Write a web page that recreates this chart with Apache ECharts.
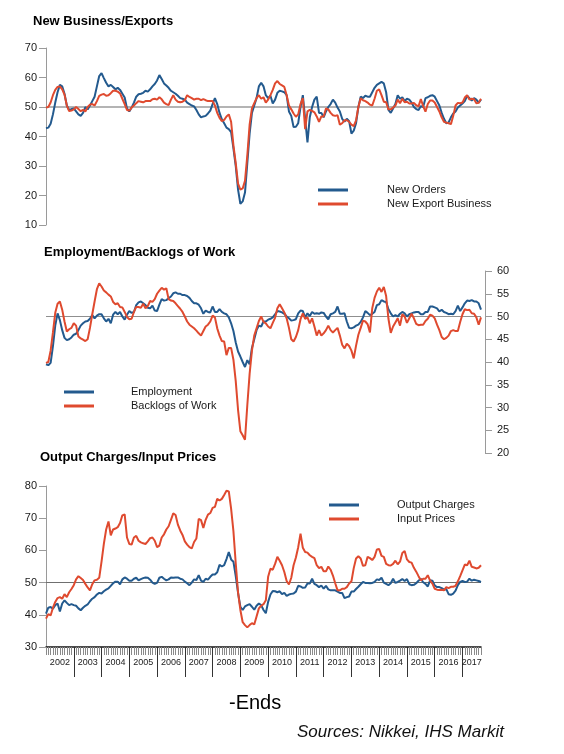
<!DOCTYPE html>
<html>
<head>
<meta charset="utf-8">
<script src="https://cdn.jsdelivr.net/npm/echarts/dist/echarts.min.js"></script>
<style>
html,body{margin:0;padding:0;background:#ffffff;}
#chart{width:564px;height:754px;}
</style>
</head>
<body>
<div id="chart"></div>
<script>
// ---------- data (monthly, Jan 2002 - Sep 2017) ----------
const years = ['2002','2003','2004','2005','2006','2007','2008','2009','2010','2011','2012','2013','2014','2015','2016','2017'];
const lastMonthOfLastYear = 9;

const newOrders = [
  42.8, 43, 44.3, 47.5, 51.5, 55, 57.5, 57, 54.5, 50.5, 49, 49.3,
  49.5, 48.5, 47.5, 47, 48, 50, 49.2, 50.5, 52, 53.5, 57, 60.5,
  61.5, 59.8, 58.2, 57, 57.5, 56.8, 56, 56.5, 55.8, 54.5, 53.2, 49.5,
  48.5, 49.8, 51.5, 53.5, 54.3, 54.5, 54.8, 55.5, 55.2, 56, 57, 57.8,
  59, 60.8, 59.5, 58, 57.3, 56.5, 55.5, 55, 54.5, 53.8, 53, 52.8,
  52.5, 51.5, 51, 50.5, 50.2, 49, 47.5, 46.5, 46.8, 47, 47.8, 48.8,
  51, 53, 51, 48, 45.8, 44.5, 43, 42.5, 41.5, 36, 30, 22,
  17.2, 18, 21, 31, 41, 48, 50.5, 53, 57, 58.2, 57, 54,
  53, 53.8, 51.2, 52.5, 54.8, 55.5, 55.3, 55, 54, 48.5, 47, 43.2, 43.3,
  44.5, 50, 54, 46, 38, 46.5, 50, 52.5, 53.5, 48, 48, 46.5,
  48.5, 50, 51, 52.5, 51.5, 49.8, 48.5, 46, 45, 46, 45.2, 41,
  42, 44.5, 50, 53.5, 53, 53.8, 53.5, 53.5, 55, 56.5, 57.5, 58,
  58.5, 58, 55, 49, 48, 49.5, 51, 54, 52.8, 53.3, 52, 52.8,
  52.5, 51.5, 50, 49.3, 49, 50.3, 50, 53, 53.3, 53.8, 54, 53.5,
  52, 50.5, 48, 46, 44.5, 44.8, 46.5, 47.8, 48.5, 49.8, 50.5, 51.2,
  52, 53.8, 53, 52.2, 53, 52.5, 51.5, 52.5
];
const newExportBusiness = [
  49.8, 50, 51.5, 54, 55.8, 56.8, 57, 56, 54.2, 50.5, 48.6, 48.8,
  49.2, 50, 49.3, 48.6, 49, 48.5, 50, 50.8, 51, 50.5, 52, 53.8,
  54.2, 54.4, 53.8, 54, 54.7, 55.5, 55.5, 55.2, 54.6, 52.8, 51, 49,
  48.8, 49.8, 50.5, 51.3, 52, 51.8, 51.6, 52, 52, 52, 52.6, 52.8,
  52.5, 53.3, 52.6, 51.5, 51, 50.6, 52.5, 54, 52.5, 51.8, 51.6, 51.8,
  52.3, 54, 53.4, 53, 52.5, 52.8, 52.8, 52.3, 52.7, 52.3, 52, 52,
  52, 50.5, 48, 46.3, 45.2, 45.6, 46.8, 47.5, 45, 37, 31, 24,
  22, 22.4, 25, 33.5, 44, 49.5, 51.3, 53, 54, 52.8, 53.3, 51.5,
  52.5, 54, 55.8, 58, 58.8, 57.8, 57.3, 56.8, 54, 50.5, 49.2, 47.8, 46.7,
  47.5, 51, 53, 42.5, 48.5, 49, 48.7, 48.2, 46.8, 45, 46.8, 46.8,
  49.5, 49.2, 48, 47.2, 47, 47.2, 44, 44.5, 45.5, 45.5, 45, 44,
  43.5, 45.5, 50, 53, 52.3, 52, 51.5, 50.8, 50.5, 52.8, 55.5, 56,
  54, 51.8, 51.6, 49.2, 49.2, 49.8, 50.5, 52.5, 51.3, 52.8, 51.6, 51.8,
  51.2, 51.2, 51.4, 50.6, 50.2, 52.7, 50.3, 48.4, 51, 52.2, 52.2, 51.5,
  50, 48.5, 46.5, 45, 44.7, 44.5, 44.2, 47, 50.5, 51.4, 51.3, 51.5,
  53.2, 54, 52.5, 52.8, 52.6, 51.3, 51.4, 52.8
];
const employment = [
  39.5, 39.3, 39.8, 43.5, 48, 50.7, 49.2, 47, 45.3, 44.8, 45, 45.4,
  46, 46.2, 47, 48, 48.5, 48.9, 49, 49.5, 50.3, 49.6, 50.2, 50.5,
  50.5, 49.6, 48.9, 49.5, 48.5, 50.4, 51, 50.5, 51, 50, 49.3, 50.4,
  51.2, 50.8, 51, 52.5, 53.1, 53.3, 52.9, 52.5, 51.9, 51.8, 52.4, 51.3,
  51.2, 52.6, 53.8, 53.5, 53.6, 54, 54.4, 55.1, 55.3, 55, 55, 54.7,
  54.7, 54.5, 54.1, 53.4, 52.9, 52.9, 52.6, 51.8, 50.6, 51.3, 51, 50.9,
  52.2, 51, 51, 51.6, 51, 50.7, 50.5, 49.8, 48.5, 46.8, 44.3, 42.3,
  41.2, 40, 38.9, 40.4, 39.5, 43.1, 45, 47, 48, 47.8, 48.9, 48.9,
  49.3, 49.5, 49.8, 50.5, 51.2, 51.1, 50.9, 50.6, 50, 49.6, 49.1, 49.2, 49.4,
  50.7, 51.3, 51.2, 49.8, 50.7, 50.1, 51, 50.6, 50.7, 50.6, 50.9, 50.8,
  50, 49.4, 50.5, 50.7, 51, 52.2, 50.6, 50.6, 50.7, 48.9, 47.5, 47.4,
  47.6, 48, 48.2, 48.8, 49.8, 51.2, 50.8, 50.3, 50.6, 51, 52.5, 52.7,
  53.6, 53.3, 53.2, 51.6, 50.7, 50, 50.3, 50, 50.6, 51, 50.7, 50,
  50.5, 50.7, 50.9, 51, 51, 50.5, 50.5, 51, 51, 52.2, 52.2, 52,
  51.8, 51.1, 51.5, 51, 50.8, 50.5, 50.6, 50.5, 51.2, 52.4, 51.2, 52,
  52.9, 53.5, 53.4, 53.6, 53.3, 53.3, 52.9, 51.5
];
const backlogsOfWork = [
  39.8, 40, 42.5, 46.5, 50.8, 52.8, 53.3, 51.5, 48.9, 46.7, 47.2, 47.5,
  48.5, 48, 45.6, 45.2, 44.9, 44.6, 45, 47.5, 50.5, 53.3, 56, 57.3,
  56.6, 55.7, 55.3, 54.8, 54.4, 53.2, 52.7, 52.9, 52.1, 52, 51, 49.9,
  49.4, 49.5, 51, 52.1, 52.1, 51.9, 52.8, 51.8, 52.3, 53.4, 53.2, 53.8,
  55, 55.7, 56.3, 55.9, 56.2, 53.8, 53.5, 53.4, 52.9, 52.3, 51.7, 51,
  50, 48.9, 48.2, 47.8, 47.4, 46.9, 46.3, 45.8, 46.8, 47.8, 48.2, 48.9,
  50.2, 49.8, 47.4, 45.8, 44.6, 44.5, 41.5, 43.1, 43.1, 40.5, 35.8, 29.5,
  24.8, 23.9, 22.9, 30.5, 37.4, 42.5, 45.8, 47.4, 49, 50, 48.8, 48.5,
  47.8, 47.4, 48.6, 49.7, 51.8, 52.7, 51.8, 50.9, 49.6, 47.5, 45, 44.5, 45.5,
  47, 49.4, 50.7, 49.5, 49.8, 48.5, 49.6, 47.8, 45.8, 47, 45.8, 46.3,
  47, 48, 47, 46.5, 47, 47.5, 45.8, 43.8, 43, 44, 43.5, 42.5,
  40.8, 43.6, 46, 47.5, 49.1, 48.9, 48.3, 46.5, 51.8, 54.1, 55.5, 56.3,
  55.4, 56.5, 54.5, 49.5, 46.4, 47.8, 48.7, 49.6, 48, 50.5, 50, 48.6,
  49.6, 50.6, 49.6, 48.4, 48.1, 48.2, 48.2, 49, 49.5, 50.4, 50.2, 49.6,
  48.2, 47, 45.5, 45, 45.3, 45.8, 46.8, 47, 46.8, 46.8, 48.8, 50.5,
  51.6, 51.4, 51.5, 50.7, 50.6, 49.8, 48.2, 49.8
];
const outputCharges = [
  40.4, 42.2, 42.4, 41.9, 43, 43.5, 41, 43.5, 44.5, 43.7, 43, 43.3,
  43, 42.8, 42, 41.4, 42.2, 42.8, 43.2, 44.2, 45, 45.5, 46.3, 46.8,
  46.6, 47.3, 47.8, 48.2, 49, 49.8, 50.3, 50.3, 49.5, 51, 51.6, 51.2,
  50.6, 50.6, 51.2, 51.5, 50.7, 51.1, 51.4, 51.6, 51.5, 50.9, 50, 49.6, 49.9,
  51.5, 51.8, 51.2, 50.7, 51, 51.6, 51.5, 51.6, 51.6, 51.2, 51, 50.3,
  49.8, 49.2, 50, 51, 50.8, 52.3, 50.6, 50.2, 51.2, 50.9, 51.8, 52.5,
  52.5, 53.2, 55.5, 55, 55.4, 57.3, 59.5, 57.2, 56.5, 52, 46.8, 42.5,
  41.5, 42.6, 43, 43.3, 42.5, 41.6, 42.8, 43.5, 43, 41.5, 40.5, 44,
  46.3, 47.4, 47.3, 47, 47.3, 46.4, 46.8, 45.9, 46.3, 46.5, 46.6, 47.2,
  49, 48.8, 48.4, 48.5, 49.7, 49.7, 51.2, 49.6, 49.2, 48.6, 49.1, 48.1,
  49, 47.9, 47.6, 47.6, 47.6, 47.2, 46.8, 46.8, 45.2, 45.5, 45.7, 47.2,
  47.2, 48, 48.7, 49.5, 50.2, 49.9, 49.9, 49.8, 49.9, 50.2, 51, 50.8,
  51.5, 50, 49.6, 49.2, 49.8, 51.2, 49.9, 50.2, 50.6, 51.1, 50.5, 51.1,
  49.5, 49.2, 49.3, 49.8, 50.6, 51.2, 50.1, 49.6, 48.8, 50.7, 50.6, 49.1,
  48.6, 48.6, 48.3, 47.8, 48, 46.4, 46.2, 46.6, 47.5, 49.2, 50.2, 50.5,
  50.2, 50.3, 51.2, 50.6, 50.9, 50.7, 50.5, 50.2
];
const inputPrices = [
  38.8, 40.2, 39.8, 42.2, 44, 45.2, 45.5, 45, 46.4, 45.5, 47, 48,
  49.2, 51, 52, 51.4, 50.8, 49.6, 48.5, 47.6, 49.5, 50.7, 50.9, 51.5,
  56.5, 62, 66.5, 69, 64.7, 66.5, 66.8, 67.2, 68.5, 70.9, 71.2, 64,
  62, 61.8, 64, 64.5, 63, 62.5, 62.2, 62, 62.8, 63.8, 64, 63, 61,
  61.5, 64, 65, 66.5, 67.5, 69.5, 71.5, 71, 68, 66.2, 64.8, 62.8,
  61.8, 61, 60.6, 62.6, 63.7, 69.8, 69.4, 67, 69.5, 71.1, 71.6, 73.2,
  73.5, 76, 75.5, 76, 77.2, 78.5, 78.3, 73, 66, 56, 47, 41.5,
  37.7, 36.8, 36.1, 36.8, 37.4, 37, 39.5, 42, 42.8, 43.3, 44.5, 51.8,
  54.3, 54, 55.8, 58, 56.8, 55.4, 53.3, 50.5, 49.4, 51.5, 55.4, 57.8,
  61, 65.2, 60.8, 59.5, 59.3, 58.5, 58, 57.6, 55.4, 54.5, 54.9, 53.5,
  53.5, 55, 54, 52.2, 49.8, 47.6, 47.6, 48.1, 48.1, 48.6, 49.7, 50.4,
  54.5, 57.5, 58.2, 57.5, 55.2, 55.4, 58, 57.6, 57, 58, 60.3, 60.4,
  58.3, 58, 55.8, 55.4, 55.3, 55.8, 56.8, 55.7, 56.5, 59.2, 59.8, 57.2,
  56.4, 56.2, 54.6, 53.4, 52, 50.7, 51.2, 51.2, 52.3, 50.6, 49.7, 48.1,
  47.8, 47.7, 47.8, 47.6, 48.6, 48.3, 48.7, 48.7, 49, 50.4, 52, 53.8,
  55.6, 55.4, 56.8, 54.9, 54.7, 54.4, 54.6, 55.4
];

// ---------- categories ----------
const months = [];
years.forEach(function (y, yi) {
  const n = (yi === years.length - 1) ? lastMonthOfLastYear : 12;
  for (let m = 1; m <= n; m++) months.push(y + '-' + (m < 10 ? '0' + m : '' + m));
});

// ---------- styling ----------
const BLUE = '#235a8e';
const RED = '#df4a2f';
const FONT = '"Liberation Sans", Arial, sans-serif';
const TXT = '#1a1a1a';

function valueAxis(gridIndex, min, max, interval, position, offset, margin) {
  return {
    gridIndex: gridIndex, type: 'value', min: min, max: max, interval: interval,
    position: position, offset: offset || 0,
    splitLine: { show: false },
    axisLine: { show: true, lineStyle: { color: '#9a9a9a', width: 1 } },
    axisTick: { show: true, length: 7, lineStyle: { color: '#9a9a9a' } },
    axisLabel: { fontSize: 11, color: TXT, margin: margin, fontFamily: FONT }
  };
}
function hiddenX(gridIndex) {
  return { gridIndex: gridIndex, type: 'category', data: months, boundaryGap: false, show: false };
}
function refLine(color, width) {
  return {
    silent: true, symbol: 'none', z: 1, animation: false,
    label: { show: false },
    lineStyle: { color: color, width: width, type: 'solid' },
    data: [{ yAxis: 50 }]
  };
}
function lineSeries(name, data, color, xi, yi, mark) {
  const s = {
    name: name, type: 'line', data: data, xAxisIndex: xi, yAxisIndex: yi,
    showSymbol: false, symbol: 'none', color: color, z: 3,
    lineStyle: { color: color, width: 2 }
  };
  if (mark) s.markLine = mark;
  return s;
}
function legendAt(left, top, names, textPad) {
  return {
    left: left, top: top, orient: 'vertical', padding: 0, itemGap: 0,
    itemWidth: 30, itemHeight: 3, icon: 'rect', selectedMode: false,
    textStyle: { fontSize: 11, color: TXT, fontFamily: FONT, lineHeight: 14, padding: [0, 0, 0, textPad] },
    data: names
  };
}

const chart = echarts.init(document.getElementById('chart'), null, { renderer: 'canvas' });
chart.setOption({
  animation: false,
  backgroundColor: '#ffffff',
  textStyle: { fontFamily: FONT },
  title: [
    { text: 'New Business/Exports', left: 33, top: 15, padding: 0,
      textStyle: { fontSize: 13, fontWeight: 'bold', color: '#000', fontFamily: FONT } },
    { text: 'Employment/Backlogs of Work', left: 44, top: 246, padding: 0,
      textStyle: { fontSize: 13, fontWeight: 'bold', color: '#000', fontFamily: FONT } },
    { text: 'Output Charges/Input Prices', left: 40, top: 451, padding: 0,
      textStyle: { fontSize: 13, fontWeight: 'bold', color: '#000', fontFamily: FONT } }
  ],
  legend: [
    legendAt(318, 183, ['New Orders', 'New Export Business'], 34),
    legendAt(64, 385, ['Employment', 'Backlogs of Work'], 32),
    legendAt(329, 498, ['Output Charges', 'Input Prices'], 33)
  ],
  grid: [
    { left: 46, right: 83, top: 48, height: 177, outerBoundsMode: 'none' },
    { left: 46, right: 83, top: 271, height: 182, outerBoundsMode: 'none' },
    { left: 46, right: 83, top: 486, height: 161, outerBoundsMode: 'none' }
  ],
  xAxis: [
    hiddenX(0),
    hiddenX(1),
    {
      gridIndex: 2, type: 'category', data: months, boundaryGap: false, position: 'bottom',
      axisLine: { show: true, lineStyle: { color: '#111', width: 1.5 } },
      axisTick: { show: true, interval: 0, length: 8, lineStyle: { color: '#8a8a8a', width: 1 } },
      axisLabel: {
        show: true, fontSize: 9, color: TXT, margin: 11, fontFamily: FONT,
        interval: function (i, v) {
          const p = v.split('-');
          return (p[0] === '2017') ? p[1] === '05' : p[1] === '07';
        },
        formatter: function (v) { return v.slice(0, 4); }
      },
      splitLine: { show: false }
    },
    {
      gridIndex: 2, type: 'category', data: months, boundaryGap: false, position: 'bottom',
      axisLine: { show: false },
      axisTick: {
        show: true, length: 30, lineStyle: { color: '#333', width: 1 },
        interval: function (i, v) { return i > 0 && v.slice(5) === '01'; }
      },
      axisLabel: { show: false },
      splitLine: { show: false }
    }
  ],
  yAxis: [
    valueAxis(0, 10, 70, 10, 'left', 0, 9),
    valueAxis(1, 20, 60, 5, 'right', 4, 12),
    valueAxis(2, 30, 80, 10, 'left', 0, 9)
  ],
  series: [
    lineSeries('New Orders', newOrders, BLUE, 0, 0, refLine('#b4b4b4', 2)),
    lineSeries('New Export Business', newExportBusiness, RED, 0, 0),
    lineSeries('Employment', employment, BLUE, 1, 1, refLine('#8f8f8f', 1.2)),
    lineSeries('Backlogs of Work', backlogsOfWork, RED, 1, 1),
    lineSeries('Output Charges', outputCharges, BLUE, 2, 2, refLine('#6f6f6f', 1)),
    lineSeries('Input Prices', inputPrices, RED, 2, 2)
  ],
  graphic: [
    { type: 'text', left: 229, top: 693, silent: true,
      style: { text: '-Ends', fontSize: 20, fontFamily: FONT, fill: '#000' } },
    { type: 'text', left: 297, top: 724, silent: true,
      style: { text: 'Sources: Nikkei, IHS Markit', fontSize: 17, fontStyle: 'italic', fontFamily: FONT, fill: '#111' } }
  ]
});
</script>
</body>
</html>
